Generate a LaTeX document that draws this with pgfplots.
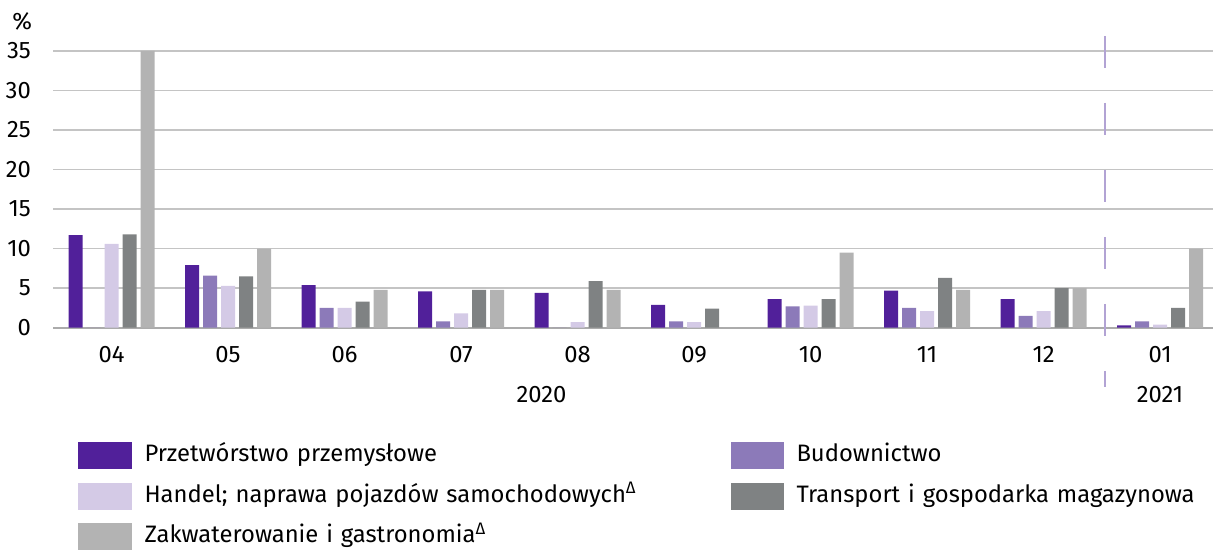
\documentclass[border=0pt,11pt]{standalone}
\usepackage{fontspec}
\setmainfont{Fira Sans}
\usepackage{pgfplots}
\pgfplotsset{compat=1.18}
\definecolor{cP}{HTML}{51209A}
\definecolor{cB}{HTML}{8C7AB9}
\definecolor{cH}{HTML}{D4CAE6}
\definecolor{cT}{HTML}{7F8283}
\definecolor{cZ}{HTML}{B3B3B3}
\definecolor{gridgray}{HTML}{C4C4C4}
\definecolor{axisgray}{HTML}{ABABAB}
\definecolor{dashc}{HTML}{B2A3D4}
\begin{document}
\fontsize{11.9pt}{14.3pt}\selectfont
\begin{tikzpicture}
\useasboundingbox (-26.65pt,-111.15pt) rectangle (580.35pt,163.85pt);
\begin{axis}[
  at={(0,0)}, anchor=south west,
  scale only axis, width=580pt, height=138.35pt,
  xmin=-0.5, xmax=9.457, ymin=0, ymax=35,
  ybar=2pt, bar width=7pt,
  axis x line*=bottom, axis y line*=left,
  y axis line style={draw=none},
  x axis line style={draw=axisgray, line width=1pt},
  ytick={0,5,...,35},
  ymajorgrids, grid style={color=gridgray, line width=0.75pt},
  major tick length=0pt,
  xtick={0,...,9},
  xticklabels={04,05,06,07,08,09,10,11,12,01},
  clip=false,
  /pgf/number format/assume math mode=true,
  yticklabel style={anchor=east, inner sep=0pt, xshift=-11pt},
  xticklabel style={anchor=center, inner sep=0pt, yshift=-13.25pt},
  legend columns=2,
  legend cell align=left,
  legend style={at={(axis description cs:0,0)}, anchor=north west,
    xshift=12.6pt, yshift=-57.15pt, draw=none, fill=none,
    inner sep=0pt, outer sep=0pt, row sep=6.83pt,
    nodes={inner sep=0pt, text height=8.6pt, text depth=2.7pt, text width=293pt, align=left},
    /tikz/every odd column/.style={column sep=6.5pt}},
  legend image code/.code={\fill[#1,draw=none] (0pt,-6.7pt) rectangle (26.5pt,6.8pt);},
]
\addplot[fill=cP, draw=none] coordinates {(0,11.7) (1,7.9) (2,5.4) (3,4.6) (4,4.4) (5,2.9) (6,3.6) (7,4.7) (8,3.6) (9,0.3)};
\addlegendentry{Przetwórstwo przemysłowe}
\addplot[fill=cB, draw=none] coordinates {(0,0) (1,6.6) (2,2.5) (3,0.8) (4,0) (5,0.8) (6,2.7) (7,2.5) (8,1.5) (9,0.8)};
\addlegendentry{Budownictwo}
\addplot[fill=cH, draw=none] coordinates {(0,10.6) (1,5.3) (2,2.5) (3,1.8) (4,0.7) (5,0.7) (6,2.8) (7,2.1) (8,2.1) (9,0.4)};
\addlegendentry{Handel; naprawa pojazdów samochodowych\textsuperscript{Δ}}
\addplot[fill=cT, draw=none] coordinates {(0,11.8) (1,6.5) (2,3.3) (3,4.8) (4,5.9) (5,2.4) (6,3.6) (7,6.3) (8,5.0) (9,2.5)};
\addlegendentry{Transport i gospodarka magazynowa}
\addplot[fill=cZ, draw=none] coordinates {(0,35.0) (1,10.0) (2,4.8) (3,4.8) (4,4.8) (5,0) (6,9.5) (7,4.8) (8,5.0) (9,10.0)};
\addlegendentry{Zakwaterowanie i gastronomia\textsuperscript{Δ}}
\draw[color=dashc, line width=1pt, dash pattern=on 16pt off 17.5pt] (axis cs:8.53,36.9) -- (axis cs:8.53,-7.5);
\node at (axis cs:3.69,-8.5) {2020};
\node at (axis cs:9,-8.5) {2021};
\node[xshift=-15.5pt, yshift=15pt] at (rel axis cs:0,1) {\%};
\end{axis}
\end{tikzpicture}
\end{document}
